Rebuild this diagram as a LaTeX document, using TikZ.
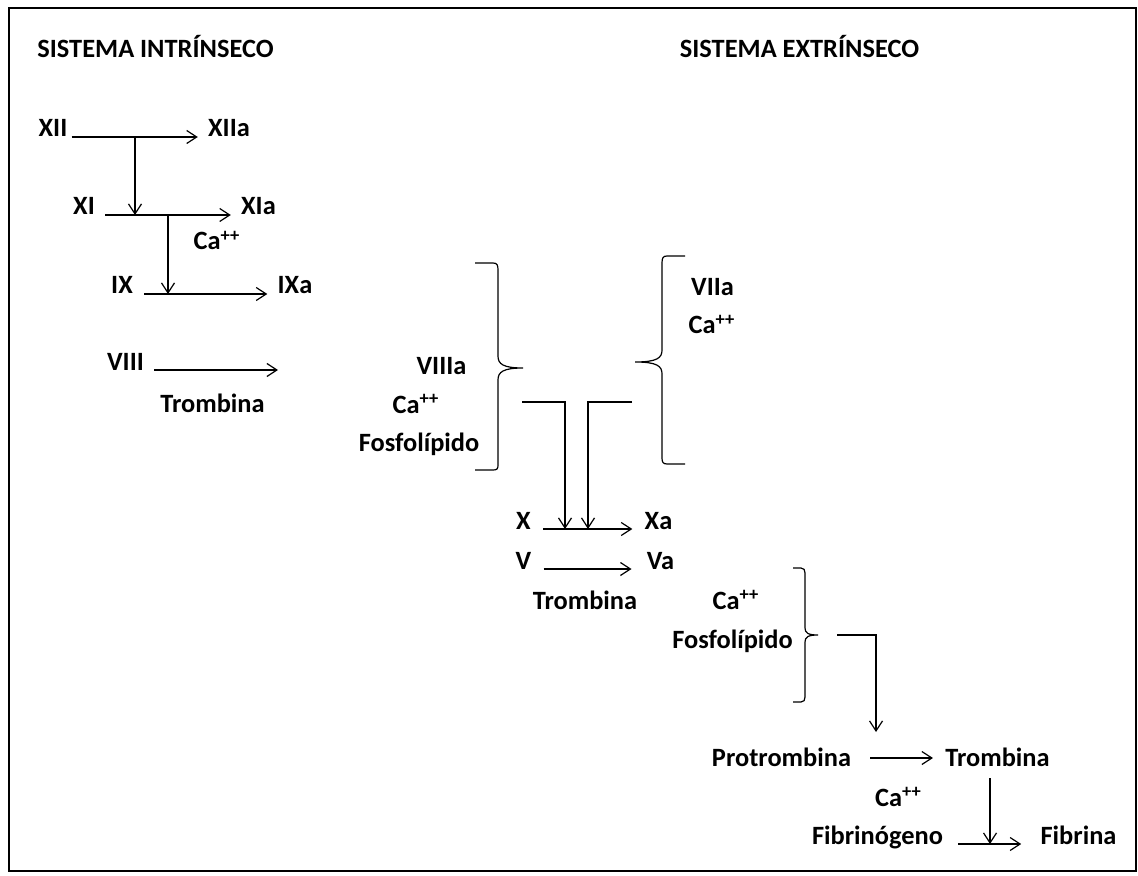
\documentclass[tikz,border=0pt]{standalone}
\usepackage{fontspec}
\setmainfont{Carlito}
\usetikzlibrary{positioning,arrows.meta}

\begin{document}
\begin{tikzpicture}[
    x=0.5pt, y=-0.5pt,
    lbl/.style={anchor=base, inner ysep=0pt, inner xsep=2pt, font=\bfseries\fontsize{13.2}{15}\selectfont},
    arr/.style={-{Straight Barb[length=5pt,width=6.5pt]}, line width=0.6pt},
    brk/.style={line width=0.6pt}
  ]
  \useasboundingbox (0,0) rectangle (1138,876);
  \draw[line width=1pt] (9,8) rectangle (1136,871);

  % titles
  \node[lbl] (tint) at (155.5,58) {SISTEMA INTRÍNSECO};
  \node[lbl] (text) at (799.5,58) {SISTEMA EXTRÍNSECO};

  % intrinsic cascade
  \node[lbl] (xii)  at (53,137)    {XII};
  \node[lbl] (xiia) at (229,137)   {XIIa};
  \node[lbl] (xi)   at (84,215)    {XI};
  \node[lbl] (xia)  at (258.5,215) {XIa};
  \node[lbl] (ca1)  at (217,250)   {Ca\textsuperscript{++}};
  \node[lbl] (ix)   at (122,294)   {IX};
  \node[lbl] (ixa)  at (295,294)   {IXa};
  \node[lbl] (viii) at (125.5,371) {VIII};
  \node[lbl] (trb1) at (212.5,412) {Trombina};
  \node[lbl] (viiia) at (441.5,374) {VIIIa};
  \node[lbl] (ca2)  at (416,413)   {Ca\textsuperscript{++}};
  \node[lbl] (fos2) at (419,451)   {Fosfolípido};

  % extrinsic
  \node[lbl] (viia) at (712.5,296) {VIIa};
  \node[lbl] (ca3)  at (712,334)   {Ca\textsuperscript{++}};

  % common pathway
  \node[lbl] (x)    at (523.5,529) {X};
  \node[lbl] (xa)   at (658.5,529) {Xa};
  \node[lbl] (v)    at (523.5,569) {V};
  \node[lbl] (va)   at (660.5,569) {Va};
  \node[lbl] (trb2) at (585,609)   {Trombina};
  \node[lbl] (ca4)  at (736,609)   {Ca\textsuperscript{++}};
  \node[lbl] (fos4) at (732.5,648) {Fosfolípido};
  \node[lbl] (pro)  at (781.5,766) {Protrombina};
  \node[lbl] (trb3) at (997.5,766) {Trombina};
  \node[lbl] (ca5)  at (898.5,806) {Ca\textsuperscript{++}};
  \node[lbl] (fbg)  at (877.5,844) {Fibrinógeno};
  \node[lbl] (fib)  at (1078.5,844) {Fibrina};

  % horizontal reactions
  \draw[arr, shorten >=3pt] (xii.base east) -- (xiia.base west);
  \draw[arr, shorten <=3pt, shorten >=3pt] (xi.base east) -- (xia.base west);
  \draw[arr, shorten <=3.5pt, shorten >=3pt] (ix.base east) -- (ixa.base west);
  \coordinate (viiiend) at (278,370);
  \draw[arr, shorten <=3pt] ([yshift=0.5pt]viii.base east) -- (viiiend);
  \draw[arr, shorten <=4pt, shorten >=4pt] (x.base east) -- (xa.base west);
  \draw[arr, shorten <=4pt, shorten >=5.5pt] (v.base east) -- (va.base west);
  \draw[arr, shorten <=7.5pt, shorten >=4pt] ([yshift=4pt]pro.base east) -- ([yshift=4pt]trb3.base west);
  \draw[arr, shorten <=5.5pt, shorten >=7.5pt] (fbg.base east) -- (fib.base west);

  % activations
  \coordinate (d1) at (135,137);
  \draw[arr] (d1) -- (d1 |- xi.base);
  \coordinate (d2) at (168,215);
  \draw[arr] (d2) -- (d2 |- ix.base);
  \coordinate (d5) at (990,778);
  \draw[arr] (d5) -- (d5 |- fbg.base);

  % braces
  \draw[brk] (475,263) -- (493,263) .. controls (497,263) and (498,265) .. (498,270)
    -- (498,356) .. controls (498,364) and (503,368) .. (523,368)
    .. controls (503,368) and (498,372) .. (498,380)
    -- (498,465) .. controls (498,469) and (497,470) .. (493,470) -- (475,470);
  \draw[brk] (685,256) -- (667,256) .. controls (663,256) and (662,258) .. (662,263)
    -- (662,350) .. controls (662,358) and (657,362) .. (635,362)
    .. controls (657,362) and (662,366) .. (662,374)
    -- (662,458) .. controls (662,462) and (663,464) .. (667,464) -- (685,464);
  \draw[brk] (793,568) -- (801,568) .. controls (804,568) and (805,570) .. (805,573)
    -- (805,628) .. controls (805,633) and (808,635) .. (818,635)
    .. controls (808,635) and (805,637) .. (805,642)
    -- (805,697) .. controls (805,700) and (804,702) .. (801,702) -- (793,702);

  % elbow connectors
  \coordinate (e1) at (522,402);
  \draw[arr] (e1) -- (565,402) -- (565,529);
  \coordinate (e2) at (632,402);
  \draw[arr] (e2) -- (588,402) -- (588,529);
  \coordinate (e3) at (837,635);
  \draw[arr] (e3) -- (876,635) -- (876,732);
\end{tikzpicture}
\end{document}
